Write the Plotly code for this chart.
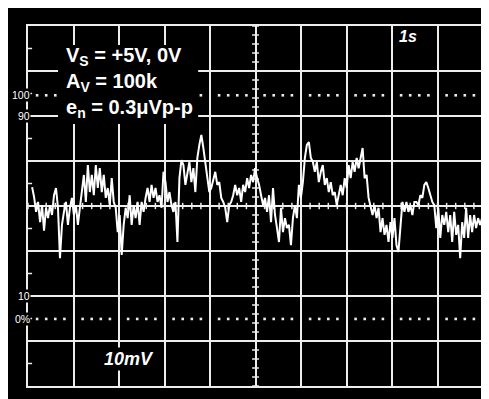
import plotly.graph_objects as go

# scope screen: 10 x 8 divisions, 1 s/div, 10 mV/div
n_xdiv = 10
n_ydiv = 8
mv_per_div = 10.0

# noise trace in mV, one sample every ~44 ms starting at 0.09 s
sample_start = 0.09
sample_step = 0.04376
noise_mv = [
    4.2, 2.0, -1.3, 0.9, -3.6, 0.2, -5.5, -0.4, -2.7, 0.2, -2.0, 2.4, 4.0, -0.4, -11.6, -4.2,
    -1.3, 0.9, -4.2, -0.4, 1.8, -2.0, 0.2, -4.2, -0.4, 3.1, 6.9, 0.9, 9.1, 3.1, 6.9, 2.4,
    9.1, 4.0, 8.4, 3.1,
    6.9, 1.8, 4.0, 0.2, 6.2, 0.9, -0.4, -5.8, -2.0, -10.9, -4.2, -0.4, -2.7, 2.4, -4.2, 0.2,
    -2.7, 0.9, -4.2, 0.9, -1.3, 1.8, 4.0, 0.9, 4.7, 1.8, 4.0, 0.9, 2.4, -0.4, 7.6, 5.3,
    0.9, 3.1, 0.2, -1.3, 0.9, -8.0, 6.2, 10.2,
    9.1, 4.7, 6.9, 9.8, 5.3, 8.4, 3.1, 10.7, 13.6, 15.8, 12.9, 9.8, 6.9, 3.1, 4.0, 6.2,
    7.6, 4.7, 5.3, 1.8, 0.9, -0.4, -3.6, 0.2, 0.9, 2.4, 4.7, 2.4, 4.0, 0.9, 4.7, 3.1,
    6.2, 4.0, 6.9, 5.3, 8.4, 6.2,
    4.7, 2.4, 0.2, 1.8, -1.3, 2.4, -3.6, 4.0, -2.0, -4.9, -8.0, -0.4, -5.8, -2.7, -4.9, -4.2,
    -8.7, -2.7, 0.2, -2.7, 4.7, 1.8, 5.3, 10.7, 13.6, 14.2, 10.7, 9.8, 7.6, 9.8, 5.3, 7.6,
    9.1, 4.7, 6.2, 3.1, 5.3, 2.4, 3.1, 0.2,
    2.4, 4.7, 2.4, 6.2, 4.0, 9.1, 6.2, 9.8, 7.6, 10.7, 8.4, 10.7, 12.9, 6.2, 6.9, 1.8,
    0.2, -2.0, 0.2, -2.7, -0.4, -5.8, -2.7, -6.4, -4.2, -8.0, -3.6, -7.1, -2.7, -8.7, -10.2, -4.2,
    0.9, -1.3, 0.9, -1.3, 0.2, -2.0, 0.9,
    0.9, 0.2, 2.4, 1.8, 4.7, 5.3, 4.0, 2.4, 0.9, 0.2, -4.9, -0.4, -7.1, -2.0, -4.2, -1.3,
    -5.8, -2.0, -8.0, -1.3, -6.4, -4.2, -11.6, -3.6, -7.1, -0.4, -7.1, -2.0, -5.8, -2.0, -4.9, -2.7,
    -4.2, -2.7,
]

# 0% / 100% dotted reference levels (mV) and side labels
ref_levels = [24.6, -25.1]
side_labels = ["100", "90", "10", "0%"]
side_label_mv = [24.6, 20.0, -20.0, -25.1]

info_lines = ["V<sub>S</sub> = +5V, 0V", "A<sub>V</sub> = 100k", "e<sub>n</sub> = 0.3μVp-p"]
info_mv = [33.3, 27.4, 21.6]

FONT = "Liberation Sans, Arial, Helvetica, sans-serif"
WHITE = "#ededed"

t = [sample_start + i * sample_step for i in range(len(noise_mv))]
ymax = n_ydiv / 2 * mv_per_div

fig = go.Figure()

# dotted 0% / 100% lines: 4 dots in every division
dot_x, dot_y = [], []
for lvl in ref_levels:
    for d in range(n_xdiv):
        for k in range(1, 5):
            dot_x.append(d + 0.2 * k)
            dot_y.append(lvl)
fig.add_trace(go.Scatter(x=dot_x, y=dot_y, mode="markers",
                         marker=dict(symbol="square", size=2.6, color=WHITE, line_width=0),
                         hoverinfo="skip"))

# minor ticks on the center cross and on the left edge
tx, ty = [], []
for i in range(0, 5 * n_ydiv + 1):
    y = -ymax + i * mv_per_div / 5
    tx += [n_xdiv / 2 - 0.075, n_xdiv / 2 + 0.075, None]
    ty += [y, y, None]
for i in range(0, 5 * n_xdiv + 1):
    x = i * 0.2
    tx += [x, x, None]
    ty += [-0.7, 0.7, None]
for i in range(n_ydiv):
    y = -ymax + (i + 0.5) * mv_per_div
    tx += [0, 0.09, None]
    ty += [y, y, None]
fig.add_trace(go.Scatter(x=tx, y=ty, mode="lines", line=dict(color=WHITE, width=1.5),
                         hoverinfo="skip"))

fig.add_trace(go.Scatter(x=t, y=noise_mv, mode="lines",
                         line=dict(color="white", width=2), hoverinfo="skip"))

# blank patch behind the settings text
fig.add_shape(type="rect", xref="x", yref="y", x0=0.66, x1=3.74, y0=18.2, y1=35.8,
              fillcolor="black", line_width=0, layer="above")

for txt, y in zip(info_lines, info_mv):
    fig.add_annotation(x=0.8, y=y, text="<b>" + txt + "</b>", showarrow=False,
                       xanchor="left", yanchor="middle", font=dict(family=FONT, size=20, color="white"))

for txt, y in zip(side_labels, side_label_mv):
    fig.add_annotation(x=0.06, y=y, text=txt, showarrow=False, xanchor="right", yanchor="middle",
                       bgcolor="black", borderpad=0,
                       font=dict(family=FONT, size=10.5, color="white"))

fig.add_annotation(x=8.36, y=37.6, text="<b><i>1s</i></b>", showarrow=False,
                   font=dict(family=FONT, size=16, color="white"))
fig.add_annotation(x=2.21, y=-33.9, text="<b><i>10mV</i></b>", showarrow=False, bgcolor="black",
                   font=dict(family=FONT, size=18, color="white"))

fig.update_xaxes(range=[0, n_xdiv], dtick=1, showgrid=True, gridcolor=WHITE, gridwidth=2,
                 zeroline=False, showticklabels=False, showline=True, mirror=True,
                 linecolor=WHITE, linewidth=2, fixedrange=True)
fig.update_yaxes(range=[-ymax, ymax], dtick=mv_per_div, showgrid=True, gridcolor=WHITE, gridwidth=2,
                 zeroline=False, showticklabels=False, showline=True, mirror=True,
                 linecolor=WHITE, linewidth=2, fixedrange=True)
fig.update_layout(width=481, height=391, margin=dict(l=20, r=4, t=18, b=13),
                  paper_bgcolor="black", plot_bgcolor="black", showlegend=False)

fig.write_html("out.html")
